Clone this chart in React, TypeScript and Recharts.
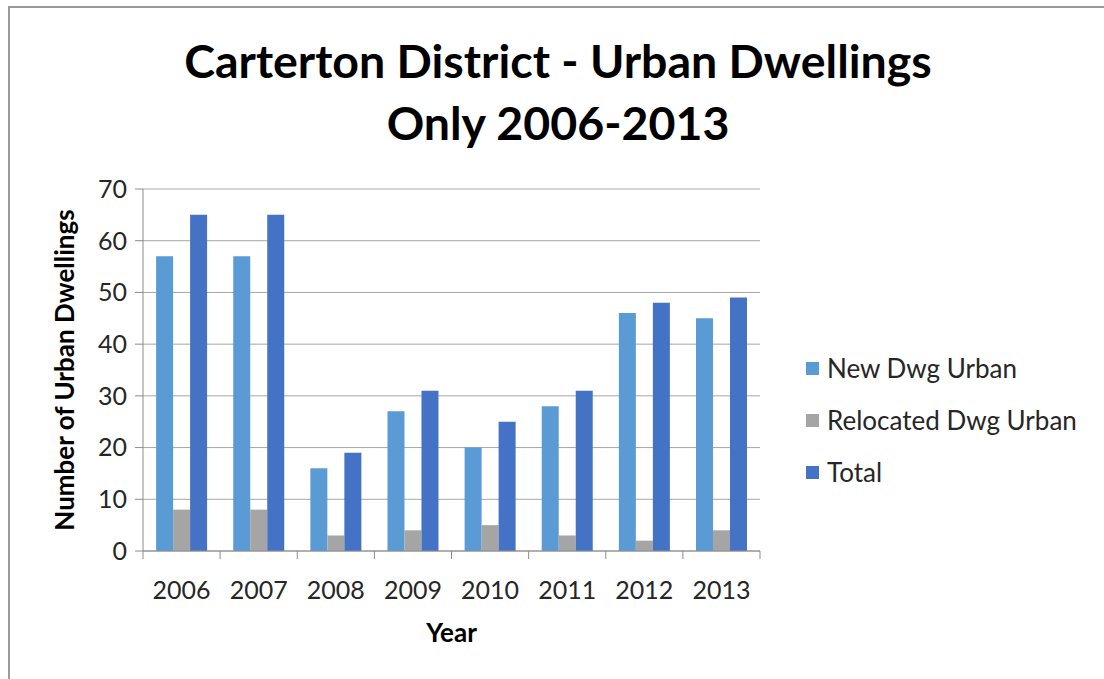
import { Bar, BarChart, CartesianGrid, XAxis, YAxis } from 'recharts';

const years = ['2006', '2007', '2008', '2009', '2010', '2011', '2012', '2013'];
const newDwgUrban = [57, 57, 16, 27, 20, 28, 46, 45];
const relocatedDwgUrban = [8, 8, 3, 4, 5, 3, 2, 4];
const totalDwellings = [65, 65, 19, 31, 25, 31, 48, 49];
const yTicks = [0, 10, 20, 30, 40, 50, 60, 70];

const series = [
    { key: 'newDwg', name: 'New Dwg Urban', color: '#5b9bd5' },
    { key: 'relocated', name: 'Relocated Dwg Urban', color: '#a5a5a5' },
    { key: 'total', name: 'Total', color: '#4472c4' }
];

const data = years.map((year, i) => ({
    year,
    newDwg: newDwgUrban[i],
    relocated: relocatedDwgUrban[i],
    total: totalDwellings[i]
}));

const font = 'Lato, "Open Sans", sans-serif';
const axisColor = '#8c8c8c';
const gridColor = '#a6a6a6';
const textColor = '#262626';
const X_TICK_GAP = 30;

// category tick marks sit on band boundaries, like Excel, not at band centres
const YearTick = (props: any) => {
    const { x, y, payload, index } = props;
    const off = payload.offset ?? 0;
    const axisY = y - X_TICK_GAP;
    return (
        <g>
            <line x1={x - off} x2={x - off} y1={axisY} y2={axisY + 8} stroke={axisColor} />
            {index === years.length - 1 && (
                <line x1={x + off} x2={x + off} y1={axisY} y2={axisY + 8} stroke={axisColor} />
            )}
            <text
                x={x}
                y={y}
                dy='0.71em'
                textAnchor='middle'
                fontSize={25}
                fontFamily={font}
                fill={textColor}
            >
                {payload.value}
            </text>
        </g>
    );
};

const YLabel = (props: any) => {
    const { viewBox } = props;
    const cx = 64;
    const cy = viewBox.y + viewBox.height / 2;
    return (
        <text
            x={cx}
            y={cy}
            transform={`rotate(-90, ${cx}, ${cy})`}
            textAnchor='middle'
            dominantBaseline='central'
            fontSize={26}
            fontWeight={700}
            fontFamily={font}
            fill='#000'
        >
            Number of Urban Dwellings
        </text>
    );
};

const XLabel = (props: any) => {
    const { viewBox } = props;
    return (
        <text
            x={viewBox.x + viewBox.width / 2}
            y={viewBox.y + 81}
            textAnchor='middle'
            dominantBaseline='central'
            fontSize={26}
            fontWeight={700}
            fontFamily={font}
            fill='#000'
        >
            Year
        </text>
    );
};

export default function App() {
    return (
        <div
            style={{
                position: 'absolute',
                left: 0,
                top: 0,
                width: 1104,
                height: 679,
                background: '#fff',
                overflow: 'hidden'
            }}
        >
            <div
                style={{
                    position: 'absolute',
                    left: 8,
                    top: 6,
                    width: 1110,
                    height: 690,
                    border: '2px solid #9a9a9a'
                }}
            />
            <div
                style={{
                    position: 'absolute',
                    left: 0,
                    top: 29,
                    width: 1116,
                    textAlign: 'center',
                    fontFamily: font,
                    fontWeight: 700,
                    fontSize: 46.5,
                    lineHeight: '62px',
                    color: '#000'
                }}
            >
                Carterton District - Urban Dwellings
                <br />
                Only 2006-2013
            </div>
            <BarChart
                width={1104}
                height={679}
                data={data}
                margin={{ top: 189, right: 344, bottom: 68, left: 63 }}
                barCategoryGap='17%'
                barGap={0}
                style={{ position: 'absolute', left: 0, top: 0 }}
            >
                <CartesianGrid vertical={false} stroke={gridColor} />
                <XAxis
                    dataKey='year'
                    height={60}
                    axisLine={{ stroke: axisColor }}
                    tickLine={false}
                    tickSize={0}
                    tickMargin={X_TICK_GAP}
                    tick={<YearTick />}
                    interval={0}
                    label={<XLabel />}
                />
                <YAxis
                    width={80}
                    domain={[0, 70]}
                    ticks={yTicks}
                    interval={0}
                    axisLine={{ stroke: axisColor }}
                    tickLine={{ stroke: axisColor }}
                    tickSize={8}
                    tickMargin={8}
                    tick={{ fontSize: 25, fontFamily: font, fill: textColor }}
                    label={<YLabel />}
                />
                {series.map((s) => (
                    <Bar
                        key={s.key}
                        dataKey={s.key}
                        name={s.name}
                        fill={s.color}
                        isAnimationActive={false}
                    />
                ))}
            </BarChart>
            <ul
                style={{
                    position: 'absolute',
                    left: 806,
                    top: 342,
                    listStyle: 'none',
                    margin: 0,
                    padding: 0
                }}
            >
                {series.map((s) => (
                    <li
                        key={s.key}
                        style={{
                            display: 'flex',
                            alignItems: 'center',
                            height: 52,
                            fontFamily: font,
                            fontSize: 26,
                            color: textColor
                        }}
                    >
                        <span
                            style={{
                                width: 13,
                                height: 13,
                                backgroundColor: s.color,
                                marginRight: 8,
                                display: 'inline-block'
                            }}
                        />
                        {s.name}
                    </li>
                ))}
            </ul>
        </div>
    );
}
